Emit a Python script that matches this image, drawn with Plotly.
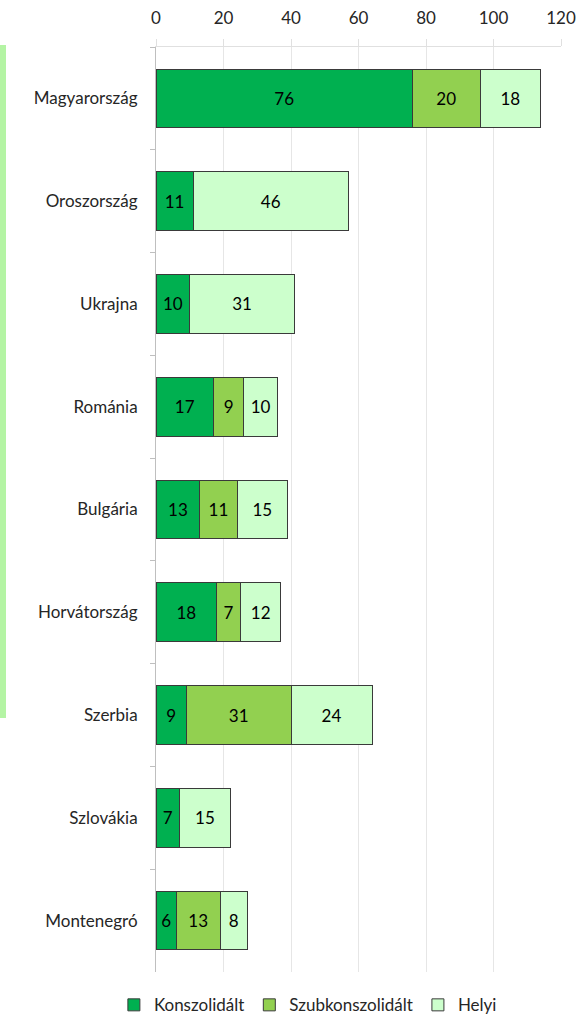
import plotly.graph_objects as go

countries = ["Magyarország", "Oroszország", "Ukrajna", "Románia", "Bulgária",
             "Horvátország", "Szerbia", "Szlovákia", "Montenegró"]
konszolidalt = [76, 11, 10, 17, 13, 18, 9, 7, 6]
szubkonszolidalt = [20, 0, 0, 9, 11, 7, 31, 0, 13]
helyi = [18, 46, 31, 10, 15, 12, 24, 15, 8]
x_ticks = [0, 20, 40, 60, 80, 100, 120]

series = [
    ("Konszolidált", konszolidalt, "#00B050"),
    ("Szubkonszolidált", szubkonszolidalt, "#92D050"),
    ("Helyi", helyi, "#CCFFCC"),
]

FONT = "Lato, 'Open Sans', sans-serif"
FS = 17

fig = go.Figure()
for name, vals, color in series:
    fig.add_trace(go.Bar(
        y=countries, x=vals, name=name, orientation="h",
        marker=dict(color=color, line=dict(color="#3a3a3a", width=1)),
        text=[str(v) if v else "" for v in vals],
        textposition="inside", insidetextanchor="middle",
        textfont=dict(color="#000000", size=FS, family=FONT),
        constraintext="none",
    ))

fig.update_layout(
    barmode="stack",
    bargap=0.43,
    width=580, height=1022,
    margin=dict(l=156, r=19, t=47, b=50, autoexpand=False),
    paper_bgcolor="white", plot_bgcolor="white",
    font=dict(family=FONT, size=FS, color="#262626"),
    uniformtext=dict(minsize=8, mode=False),
    legend=dict(orientation="h", x=0.375, xanchor="center", y=-0.036,
                yanchor="middle", font=dict(size=FS, color="#262626"),
                traceorder="normal", itemwidth=30),
    xaxis=dict(side="top", range=[0, 120], tickvals=x_ticks,
               showgrid=True, gridcolor="#e6e6e6", gridwidth=1,
               showline=True, linecolor="#e0e0e0",
               ticks="outside", ticklen=7, tickcolor="#e0e0e0",
               ticklabelstandoff=8,
               tickfont=dict(size=FS, color="#262626"), zeroline=False,
               automargin=False, fixedrange=True),
    yaxis=dict(autorange="reversed", showline=True, linecolor="#bfbfbf",
               ticks="outside", ticklen=5, tickcolor="#bfbfbf",
               tickson="boundaries", ticklabelstandoff=14, automargin=False,
               tickfont=dict(size=FS, color="#262626")),
    shapes=[dict(type="rect", xref="paper", yref="paper",
                 x0=-156/405, x1=-150/405, y0=(972-718)/925, y1=(972-45)/925,
                 fillcolor="#b4f4a4", line=dict(width=0), layer="below")],
)

fig.write_html("out.html")
